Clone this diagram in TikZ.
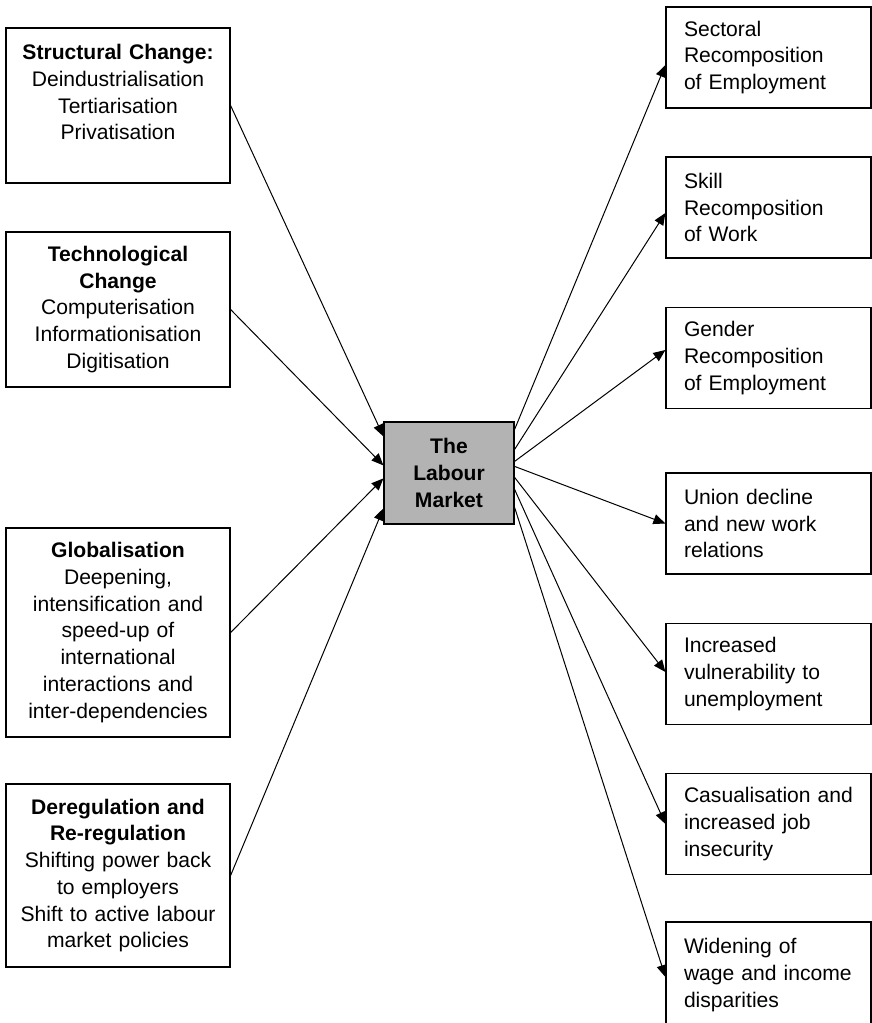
\documentclass[tikz,border=0pt]{standalone}
\usepackage{fontspec}
\setmainfont{Liberation Sans}
\usetikzlibrary{arrows.meta,positioning,calc}
\definecolor{marketgrey}{RGB}{179,179,179}
\newcommand{\figfont}{\fontsize{10.55pt}{13.35pt}\selectfont}

\begin{document}
\begin{tikzpicture}[x=0.5pt, y=-0.5pt, every node/.style={font=\figfont},
    >={Triangle[length=6pt,width=5pt]},
    cause/.style={draw, line width=0.6pt, text width=100pt, inner xsep=6pt, align=center},
    effect/.style={draw, line width=0.6pt, text width=84.5pt, inner xsep=9pt, align=left, minimum height=50.5pt},
    link/.style={->, line width=0.5pt}]
    \useasboundingbox (0,0) rectangle (872,1023);
    % Driving forces
    \node[cause, minimum height=77.5pt] (sc) at (118,105.5) {\textbf{Structural Change:}\\Deindustrialisation\\Tertiarisation\\Privatisation\\ \mbox{}};
    \node[cause, minimum height=77.5pt] (tc) at (118,309.5) {\textbf{Technological}\\\textbf{Change}\\Computerisation\\Informationisation\\Digitisation};
    \node[cause, minimum height=104.5pt] (gl) at (118,632.5) {\textbf{Globalisation}\\Deepening,\\intensification and\\speed-up of\\international\\interactions and\\inter-dependencies};
    \node[cause, minimum height=91.5pt] (dr) at (118,875.5) {\textbf{Deregulation and}\\\textbf{Re-regulation}\\Shifting power back\\to employers\\Shift to active labour\\market policies};
    % Labour market
    \node[draw, fill=marketgrey, line width=0.6pt, minimum width=65pt, minimum height=51pt, align=center, font=\figfont\bfseries] (lm) at (449,473) {The\\Labour\\Market};
    % Outcomes
    \node[effect] (se) at (768.5,57.5) {Sectoral\\Recomposition\\of Employment};
    \node[effect] (sk) at (768.5,207.5) {Skill\\Recomposition\\of Work};
    \node[effect] (ge) at (768.5,358) {Gender\\Recomposition\\of Employment};
    \node[effect] (un) at (768.5,523.5) {Union decline\\and new work\\relations};
    \node[effect] (iv) at (768.5,674) {Increased\\vulnerability to\\unemployment};
    \node[effect] (ca) at (768.5,824) {Casualisation and\\increased job\\insecurity};
    \node[effect, minimum height=53pt] (wi) at (768.5,975) {Widening of\\wage and income\\disparities};
    % Connections in
    \draw[link] (sc.east) -- ($(lm.north west)+(0,15)$);
    \draw[link] (tc.east) -- ($(lm.north west)+(0,44)$);
    \draw[link] (gl.east) -- ($(lm.north west)+(0,57)$);
    \draw[link] (dr.east) -- ($(lm.north west)+(0,87)$);
    % Connections out
    \draw[link] ($(lm.north east)+(0,8)$) -- ($(se.west)+(0,7.5)$);
    \draw[link] ($(lm.north east)+(0,28)$) -- ($(sk.west)+(0,5.5)$);
    \draw[link] ($(lm.north east)+(0,40)$) -- ($(ge.west)+(0,-8)$);
    \draw[link] ($(lm.north east)+(0,45)$) -- (un.west);
    \draw[link] ($(lm.north east)+(0,56)$) -- ($(iv.west)+(0,-2)$);
    \draw[link] ($(lm.north east)+(0,68)$) -- (ca.west);
    \draw[link] ($(lm.north east)+(0,86)$) -- ($(wi.west)+(0,2)$);
\end{tikzpicture}
\end{document}
